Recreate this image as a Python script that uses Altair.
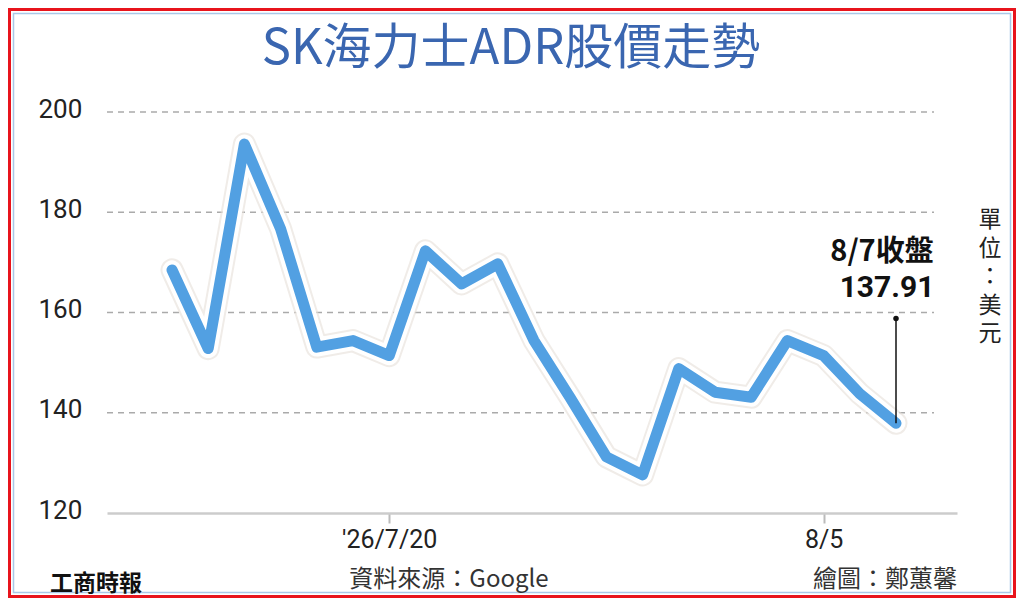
import altair as alt
import pandas as pd

# ---- data ----
dates = ["7/10", "7/13", "7/14", "7/15", "7/16", "7/17", "7/20", "7/21", "7/22", "7/23",
         "7/24", "7/27", "7/28", "7/29", "7/30", "7/31", "8/3", "8/4", "8/5", "8/6", "8/7"]
prices = [168.5, 152.8, 193.6, 176.7, 153.1, 154.4, 151.4, 172.3, 165.7, 169.7,
          154.4, 143.0, 131.2, 127.6, 148.8, 144.1, 143.1, 154.4, 151.4, 143.8, 137.91]
tick_index = [6, 18]
tick_labels = ["'26/7/20", "8/5"]
grid_values = [140, 160, 180, 200]
y_ticks = [120, 140, 160, 180, 200]
last_label = ["8/7收盤", "137.91"]
unit_chars = ["單", "位", "：", "美", "元"]
annot_top = 158.8

df = pd.DataFrame({"i": list(range(len(prices))), "date": dates, "price": prices})
last = df.iloc[[-1]].copy()
last["top"] = annot_top

W, H = 850, 401
xs = alt.Scale(domain=[-1.796, 21.685], nice=False, zero=False)
ys = alt.Scale(domain=[120, 200], nice=False, zero=False)

label_expr = " : ".join(
    f"datum.value == {v} ? \"{t}\"" for v, t in zip(tick_index, tick_labels)
) + " : ''"

base = alt.Chart(df)

xaxis = alt.Axis(values=tick_index, labelExpr=label_expr, title=None,
                 domainColor="#cccccc", domainWidth=2.5, tickColor="#bbbbbb",
                 tickWidth=2, tickSize=10, labelFontSize=25, labelColor="#222222",
                 labelFont="Roboto", labelPadding=4, grid=False)
yaxis = alt.Axis(values=y_ticks, title=None, domain=False, ticks=False, tickSize=0,
                 labelAlign="left", labelPadding=69, labelFontSize=26,
                 labelColor="#222222", labelFont="Roboto", labelBaseline="middle",
                 labelOffset=-3, grid=False)

grid = alt.Chart(pd.DataFrame({"g": grid_values})).mark_rule(
    color="#aaaaaa", strokeWidth=1.5, strokeDash=[6, 5]
).encode(y=alt.Y("g:Q", scale=ys, axis=yaxis), x=alt.value(0), x2=alt.value(827))

shadow = base.mark_line(color="#e6e0d8", strokeWidth=23, strokeCap="round",
                        strokeJoin="round", opacity=0.6).encode(
    x=alt.X("i:Q", scale=xs, axis=xaxis), y=alt.Y("price:Q", scale=ys))
halo = base.mark_line(color="white", strokeWidth=19, strokeCap="round",
                      strokeJoin="round").encode(x=alt.X("i:Q", scale=xs),
                                                 y=alt.Y("price:Q", scale=ys))
line = base.mark_line(color="#52a0e2", strokeWidth=11, strokeCap="round",
                      strokeJoin="round").encode(x=alt.X("i:Q", scale=xs),
                                                 y=alt.Y("price:Q", scale=ys))

lead = alt.Chart(last).mark_rule(color="#111111", strokeWidth=1.5).encode(
    x=alt.X("i:Q", scale=xs), y=alt.Y("price:Q", scale=ys), y2="top:Q")
dot = alt.Chart(last).mark_circle(color="#111111", size=30, opacity=1).encode(
    x=alt.X("i:Q", scale=xs), y=alt.Y("top:Q", scale=ys))

lbl1 = alt.Chart(last).mark_text(font="Noto Sans CJK TC", fontWeight="bold", fontSize=29,
                                 color="#111111", baseline="middle", align="center",
                                 dx=-14).encode(
    x=alt.X("i:Q", scale=xs), y=alt.value(140), text=alt.value(last_label[0]))
lbl2 = alt.Chart(last).mark_text(font="Roboto", fontWeight="bold", fontSize=30,
                                 color="#111111", baseline="middle", align="center",
                                 dx=-9).encode(
    x=alt.X("i:Q", scale=xs), y=alt.value(176), text=alt.value(last_label[1]))

one = pd.DataFrame({"k": [0]})

def txt(text, x, y, size, **kw):
    return alt.Chart(one).mark_text(fontSize=size, **kw).encode(
        x=alt.value(x), y=alt.value(y), text=alt.value(text))

title = txt("SK海力士ADR股價走勢", 404, -63, 49, font="Noto Sans CJK TC",
            color="#3a66b0", baseline="middle", align="center")
unit_layers = [
    txt(c, 883, 96 + 28.5 * k + 12, 23, font="Noto Sans CJK TC", color="#222222",
        baseline="middle", align="center")
    for k, c in enumerate(unit_chars)
]
src = txt("資料來源：Google", 342, 468, 24, font="Noto Sans CJK TC", color="#333333",
          baseline="middle", align="center")
credit = txt("繪圖：鄭蕙馨", 850, 468, 24, font="Noto Sans CJK TC", color="#333333",
             baseline="middle", align="right")
logo = txt("工商時報", -57, 472, 23, font="Noto Sans CJK TC", fontWeight="bold",
           color="#111111", baseline="middle", align="left")

red = alt.Chart(one).mark_rect(fill=None, stroke="#e8141c", strokeWidth=3).encode(
    x=alt.value(-97.5), x2=alt.value(907.5), y=alt.value(-102.5), y2=alt.value(484.5))
blue = alt.Chart(one).mark_rect(fill=None, stroke="#a9c8e8", strokeWidth=1.5).encode(
    x=alt.value(-93.5), x2=alt.value(903.5), y=alt.value(-98.5), y2=alt.value(480.5))

chart = alt.layer(
    grid, red, blue, shadow, halo, line, lead, dot, lbl1, lbl2,
    title, *unit_layers, src, credit, logo
).properties(
    width=W, height=H,
    autosize="none",
    padding={"left": 99, "top": 104, "right": 59, "bottom": 85},
    background="white",
).configure_view(stroke=None)

chart.save("out.html", embed_options={"renderer": "svg", "actions": False})
